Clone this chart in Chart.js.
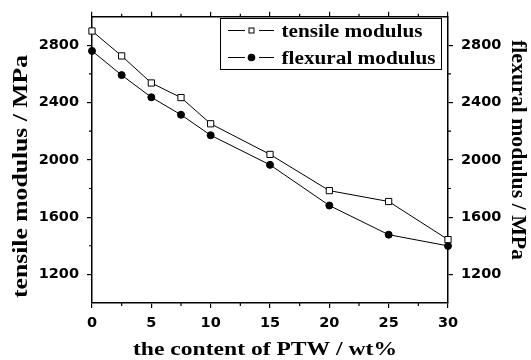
<!DOCTYPE html>
<html><head><meta charset="utf-8">
<script src="https://cdn.jsdelivr.net/npm/chart.js@4/dist/chart.umd.min.js"></script>
<style>html,body{margin:0;padding:0;background:#fff}#wrap{width:531px;height:360px}</style>
</head><body><div id="wrap"><canvas id="c" width="531" height="360"></canvas></div>
<script>
const ptwContent = [0, 2.5, 5, 7.5, 10, 15, 20, 25, 30];
const tensileModulus = [2900, 2726, 2537, 2435, 2252, 2038, 1785, 1709, 1443];
const flexuralModulus = [2761, 2592, 2437, 2315, 2172, 1965, 1681, 1477, 1399];
const xTickLabels = [0, 5, 10, 15, 20, 25, 30];
const xMinorTicks = [2.5, 7.5, 12.5, 17.5, 22.5, 27.5];
const yTickLabels = [1200, 1600, 2000, 2400, 2800];
const yMinorTicks = [1400, 1800, 2200, 2600];
const seriesNames = ['tensile modulus', 'flexural modulus'];
const xTitle = 'the content of PTW / wt%';
const yTitle = 'tensile modulus / MPa';
const y2Title = 'flexural modulus / MPa';

const tickFont = {family: 'DejaVu Sans', weight: 'bold', size: 14.5};
const plainLabel = (v) => String(v);

function pts(ys){ return ptwContent.map((x,i)=>({x:x,y:ys[i]})); }

function fitText(ctx, text, cx, cy, size, targetW, rot, align){
  ctx.save();
  ctx.font = 'bold ' + size + 'px "Liberation Serif"';
  const w = ctx.measureText(text).width;
  ctx.translate(cx, cy);
  ctx.rotate(rot);
  ctx.scale(targetW / w, 1);
  ctx.textAlign = align || 'center';
  ctx.textBaseline = 'alphabetic';
  ctx.fillStyle = '#000';
  ctx.fillText(text, 0, 0);
  ctx.restore();
}

const minorTickPlugin = {
  id: 'minorTicks',
  afterDraw(chart){
    const ctx = chart.ctx, a = chart.chartArea, s = chart.scales;
    ctx.save(); ctx.strokeStyle = '#000'; ctx.lineWidth = 1.2;
    ctx.beginPath();
    xMinorTicks.forEach(v=>{
      const px = s.x.getPixelForValue(v);
      ctx.moveTo(px, a.bottom); ctx.lineTo(px, a.bottom + 3);
      ctx.moveTo(px, a.top); ctx.lineTo(px, a.top - 3);
    });
    yMinorTicks.forEach(v=>{
      const py = s.y.getPixelForValue(v);
      ctx.moveTo(a.left, py); ctx.lineTo(a.left - 3, py);
      const py2 = s.y2.getPixelForValue(v);
      ctx.moveTo(a.right, py2); ctx.lineTo(a.right + 3, py2);
    });
    ctx.stroke(); ctx.restore();
  }
};

const textPlugin = {
  id: 'texts',
  afterDraw(chart){
    const ctx = chart.ctx;
    fitText(ctx, xTitle, 265, 355, 19.5, 264, 0, 'center');
    fitText(ctx, yTitle, 27, 176.5, 22, 243, -Math.PI/2, 'center');
    fitText(ctx, y2Title, 512, 150, 22, 220, Math.PI/2, 'center');
    const x0 = 220, y0 = 18, w = 221, h = 51;
    ctx.save();
    ctx.strokeStyle = '#000'; ctx.lineWidth = 1;
    ctx.fillStyle = '#fff';
    ctx.fillRect(x0, y0, w, h);
    ctx.strokeRect(x0+0.5, y0+0.5, w, h);
    const rows = [30.5, 57.5];
    rows.forEach((ry,i)=>{
      const cx = 251.5;
      ctx.beginPath();
      ctx.moveTo(228, ry); ctx.lineTo(245, ry);
      ctx.moveTo(259, ry); ctx.lineTo(274, ry);
      ctx.stroke();
      if(i===0){ ctx.strokeRect(cx-2.5, ry-2.5, 5, 5); }
      else { ctx.fillStyle='#000'; ctx.beginPath(); ctx.arc(cx, ry, 3.8, 0, Math.PI*2); ctx.fill(); }
    });
    ctx.restore();
    fitText(ctx, seriesNames[0], 281.5, 37, 18.5, 141, 0, 'left');
    fitText(ctx, seriesNames[1], 281.5, 63.5, 18.5, 154, 0, 'left');
  }
};

const gridCommon = {drawOnChartArea:false, color:'#000', tickLength:5, tickWidth:1.2, lineWidth:1.2};

new Chart(document.getElementById('c'), {
  type: 'scatter',
  data: {datasets: [
    {label: seriesNames[0], data: pts(tensileModulus), showLine:true, borderColor:'#000', borderWidth:1,
     pointStyle:'rect', pointRadius:4.4, pointBackgroundColor:'#fff', pointBorderColor:'#000', pointBorderWidth:1, yAxisID:'y', clip:false},
    {label: seriesNames[1], data: pts(flexuralModulus), showLine:true, borderColor:'#000', borderWidth:1,
     pointStyle:'circle', pointRadius:3.5, pointBackgroundColor:'#000', pointBorderColor:'#000', pointBorderWidth:1, yAxisID:'y2', clip:false}
  ]},
  options: {
    responsive:false, animation:false, devicePixelRatio:1,
    layout:{padding:0},
    plugins:{legend:{display:false}, tooltip:{enabled:false}},
    scales:{
      x:{type:'linear', position:'bottom', min:0, max:30,
        afterBuildTicks(s){ s.ticks = xTickLabels.map(v=>({value:v})); },
        ticks:{font:tickFont, color:'#000', padding:7, maxRotation:0, autoSkip:false, callback:plainLabel},
        grid:gridCommon, border:{display:true, color:'#000', width:1.5},
        afterFit(s){ s.height = 57; }
      },
      x2:{type:'linear', position:'top', min:0, max:30,
        afterBuildTicks(s){ s.ticks = xTickLabels.map(v=>({value:v})); },
        ticks:{display:false}, grid:gridCommon, border:{display:true, color:'#000', width:1.5},
        afterFit(s){ s.height = 14; }
      },
      y:{type:'linear', position:'left', min:1000, max:3000,
        afterBuildTicks(s){ s.ticks = yTickLabels.map(v=>({value:v})); },
        ticks:{font:tickFont, color:'#000', padding:8, autoSkip:false, callback:plainLabel},
        grid:gridCommon, border:{display:true, color:'#000', width:1.5},
        afterFit(s){ s.width = 92; }
      },
      y2:{type:'linear', position:'right', min:1000, max:3000,
        afterBuildTicks(s){ s.ticks = yTickLabels.map(v=>({value:v})); },
        ticks:{font:tickFont, color:'#000', padding:8, autoSkip:false, callback:plainLabel},
        grid:gridCommon, border:{display:true, color:'#000', width:1.5},
        afterFit(s){ s.width = 83; }
      }
    }
  },
  plugins:[minorTickPlugin, textPlugin]
});
</script></body></html>
